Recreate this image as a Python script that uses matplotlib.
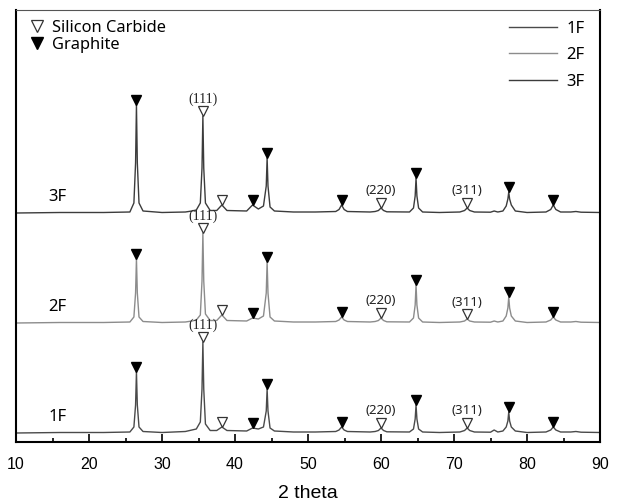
import numpy as np
import matplotlib
matplotlib.use("Agg")
import matplotlib.pyplot as plt
from matplotlib.lines import Line2D

# 2 theta vertices (shared by all three traces)
two_theta = [10.0, 16.0, 22.0,
             25.6, 26.15, 26.38, 26.5, 26.62, 26.85, 27.4,
             30.0, 33.2, 34.1, 34.7,
             35.25, 35.48, 35.6, 35.72, 35.95, 36.6,
             37.5, 38.2, 38.9,
             41.6, 42.4, 43.2,
             43.9, 44.28, 44.4, 44.52, 44.8, 45.4,
             48.0, 51.0,
             53.8, 54.25, 54.6, 54.95, 55.4,
             58.5, 59.2, 59.65, 60.0, 60.35, 60.8,
             63.9, 64.45, 64.68, 64.8, 64.92, 65.15, 65.7,
             68.0,
             70.8, 71.45, 71.8, 72.15, 72.8,
             75.0, 75.5, 76.0,
             76.7, 77.15, 77.38, 77.5, 77.62, 77.85, 78.4,
             80.0,
             82.6, 83.25, 83.6, 83.95, 84.6,
             86.0, 86.7, 87.4, 90.0]

# intensity above each trace's own baseline (arb. units)
int_1f = [0, 0.5, 0.5,
          1, 6, 28, 61, 28, 6, 1.5,
          0.5, 1.5, 3, 4,
          11, 44, 91, 44, 9, 2.5,
          2.5, 6, 2.5,
          2, 5, 4,
          6, 22, 44, 22, 5, 2,
          1, 1,
          1.5, 3, 6, 3, 1.5,
          1, 1.5, 2.5, 5, 2.5, 1.2,
          1, 4, 14, 28, 14, 4, 1,
          0.5,
          1, 2.5, 5, 2.5, 1,
          0.8, 3, 1,
          2, 6, 12, 21, 12, 6, 2,
          0.5,
          1, 3, 6, 3, 1,
          1, 1.5, 0.8, 0.5]

int_2f = [0, 0.5, 0.5,
          1, 6, 30, 64, 30, 6, 1.5,
          0.5, 1, 2, 3,
          8, 42, 90, 42, 9, 2.5,
          2.5, 8, 2.5,
          2, 5, 4,
          7, 30, 61, 30, 6, 2,
          1, 1,
          1.5, 3, 6, 3, 1.5,
          1, 1.5, 2.5, 5, 2.5, 1.2,
          1, 5, 18, 38, 18, 5, 1,
          0.5,
          1, 2, 4, 2, 1,
          0.8, 2, 1,
          2, 7, 15, 26, 15, 7, 2,
          0.5,
          1, 3, 6, 3, 1,
          1, 1.5, 0.8, 0.5]

int_3f = [0, 0.5, 0.5,
          1, 10, 50, 108, 50, 10, 2,
          0.5, 1, 2, 3,
          10, 45, 97, 45, 10, 2.5,
          2.5, 8, 2.5,
          2, 8, 4,
          7, 27, 55, 27, 6, 2,
          1, 1,
          1.5, 3.5, 8, 3.5, 1.5,
          1, 1.5, 2.5, 5, 2.5, 1.2,
          1, 5, 17, 35, 17, 5, 1,
          0.5,
          1, 2.5, 5, 2.5, 1,
          0.8, 2, 1,
          2, 7, 14, 21, 14, 8, 2,
          0.5,
          1, 3.5, 8, 3.5, 1,
          1, 1.5, 0.8, 0.5]

samples = ["1F", "2F", "3F"]
offsets = [9, 119, 229]
line_colors = ["#4a4a4a", "#8c8c8c", "#3c3c3c"]

graphite_pos = [26.5, 42.4, 44.4, 54.6, 64.8, 77.5, 83.6]
sic_pos = [35.6, 38.2, 60.0, 71.8]
sic_hkl = {35.6: "(111)", 60.0: "(220)", 71.8: "(311)"}

fig = plt.figure(figsize=(6.22, 5.03), dpi=100)
ax = fig.add_axes([16 / 622, 61 / 503, 584 / 622, 432 / 503])

x = np.array(two_theta)
for name, data, off, c in zip(samples, [int_1f, int_2f, int_3f], offsets, line_colors):
    y = np.array(data) + off
    ax.plot(x, y, color=c, lw=1.0, label=name)
    ax.text(14.4, off + 16, name, fontsize=12, family="Noto Sans", va="center", ha="left")
    gy = np.interp(graphite_pos, x, y) + 5
    ax.plot(graphite_pos, gy, "v", color="black", ms=7.5, ls="none")
    sy = np.interp(sic_pos, x, y) + 5
    ax.plot(sic_pos, sy, "v", mfc="white", mec="#333333", mew=0.9, ms=7.5, ls="none")
    for p, yy in zip(sic_pos, sy):
        if p == 35.6:
            ax.text(p, yy + 12, sic_hkl[p], fontsize=10, family="Liberation Serif",
                    ha="center", va="center", color="#222222")
        elif p in sic_hkl:
            ax.text(p, yy + 12, sic_hkl[p], fontsize=9.5, family="Noto Sans",
                    ha="center", va="center", color="#222222")

ax.set_xlim(10, 90)
ax.set_ylim(0, 432)
ax.set_yticks([])
ax.set_xticks(np.arange(10, 91, 10))
ax.set_xticks(np.arange(15, 90, 10), minor=True)
ax.tick_params(axis="x", which="major", direction="in", length=6, width=1.2, labelsize=11.5, pad=11)
ax.tick_params(axis="x", which="minor", direction="in", length=3, width=1.2)
for lbl in ax.get_xticklabels():
    lbl.set_family("Liberation Sans")
ax.set_xlabel("2 theta", fontsize=14, family="Liberation Sans", labelpad=9)

for s in ["left", "right", "bottom"]:
    ax.spines[s].set_linewidth(1.5)
    ax.spines[s].set_color("black")
ax.spines["top"].set_linewidth(0.8)
ax.spines["top"].set_color("#555555")

# phase legend (top left)
phase_handles = [
    Line2D([], [], marker="v", ls="none", mfc="white", mec="#333333", mew=0.9, ms=8),
    Line2D([], [], marker="v", ls="none", color="black", ms=8),
]
leg1 = ax.legend(phase_handles, ["Silicon Carbide", "Graphite"], loc="upper left",
                 bbox_to_anchor=(0.009, 0.995),
                 frameon=False, prop={"family": "Noto Sans", "size": 11.8},
                 handlelength=1.0, handletextpad=0.45, labelspacing=0.1,
                 borderaxespad=0.25, borderpad=0.2)
ax.add_artist(leg1)

# sample legend (top right)
sample_handles = [Line2D([], [], color=c, lw=1.0) for c in line_colors]
ax.legend(sample_handles, samples, loc="upper right", bbox_to_anchor=(0.991, 0.998),
          frameon=False, prop={"family": "Noto Sans", "size": 12},
          handlelength=2.9, handletextpad=0.55, labelspacing=0.62,
          borderaxespad=0.3, borderpad=0.3)

fig.savefig("out.png", dpi=100)
